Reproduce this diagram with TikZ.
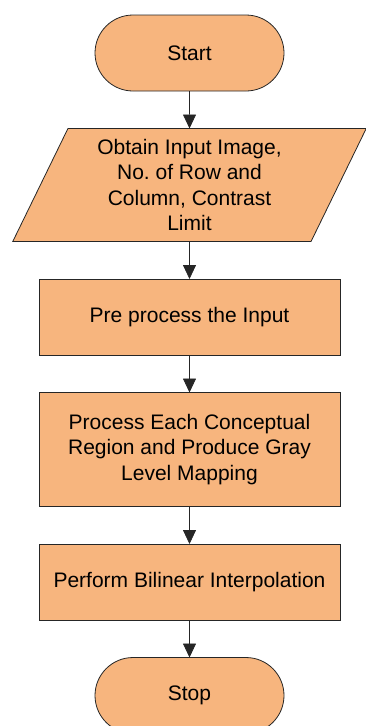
\documentclass[tikz,border=0pt]{standalone}
\usepackage{fontspec}
\setmainfont{Liberation Sans}
\usetikzlibrary{positioning, arrows.meta, shapes.geometric}
\definecolor{boxfill}{HTML}{F7B57E}

\begin{document}
\begin{tikzpicture}[
        x=1pt, y=1pt,
        node distance=37.5pt,
        every node/.style={font=\fontsize{21}{25.5}\selectfont, align=center, inner sep=0pt, outer sep=0pt},
        terminal/.style={rectangle, rounded corners=38pt, draw=black!85, line width=0.8pt, fill=boxfill, minimum width=189pt, minimum height=76pt},
        io/.style={trapezium, trapezium left angle=65.5, trapezium right angle=114.5, trapezium stretches=true, draw=black!85, line width=0.8pt, fill=boxfill, minimum width=354pt, minimum height=113pt},
        box/.style={rectangle, draw=black!85, line width=0.8pt, fill=boxfill, minimum width=301pt, minimum height=76pt},
        arrow/.style={-{Triangle[width=13pt, length=14pt]}, black!85, line width=0.8pt}
    ]
        \useasboundingbox (0,0) rectangle (365,-726);

        % Flow nodes
        \node[terminal] (start) at (189.5,-53) {Start};
        \node[io, below=of start] (input) {Obtain Input Image,\\No.\ of Row and\\Column, Contrast\\Limit};
        \node[box, below=of input] (prep) {Pre process the Input};
        \node[box, below=of prep, minimum height=114pt] (region) {Process Each Conceptual\\Region and Produce Gray\\Level Mapping};
        \node[box, below=of region] (interp) {Perform Bilinear Interpolation};
        \node[terminal, below=of interp] (stop) {Stop};

        % Connections
        \draw[arrow] (start) -- (input);
        \draw[arrow] (input) -- (prep);
        \draw[arrow] (prep) -- (region);
        \draw[arrow] (region) -- (interp);
        \draw[arrow] (interp) -- (stop);
    \end{tikzpicture}
\end{document}
